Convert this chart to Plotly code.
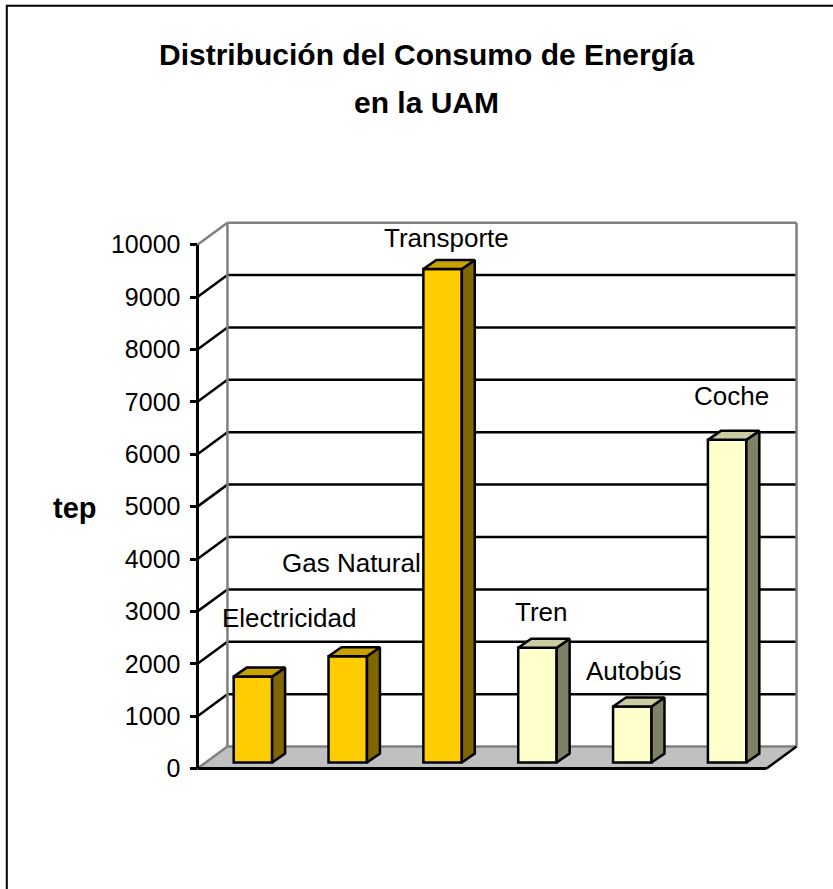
import plotly.graph_objects as go

# ---------------- data ----------------
categories = ["Electricidad", "Gas Natural", "Transporte", "Tren", "Autobús", "Coche"]
values = [1640, 2030, 9420, 2190, 1070, 6160]
groups = ["fuente", "fuente", "fuente", "modo", "modo", "modo"]
y_ticks = [0, 1000, 2000, 3000, 4000, 5000, 6000, 7000, 8000, 9000, 10000]
title_lines = ["Distribución del Consumo de Energía", "en la UAM"]
y_title = "tep"

# ---------------- style / geometry ----------------
W, H = 833, 889
FONT = "Liberation Sans, Arial, sans-serif"
COLORS = {
    "fuente": {"front": "#FFCC00", "top": "#C9A100", "side": "#806600"},
    "modo": {"front": "#FFFFCC", "top": "#CCCCA3", "side": "#808066"},
}
LINE_W = 2.5
GRID = "#000000"
WALL_EDGE = "#808080"
FLOOR = "#C0C0C0"

# pixel geometry of the front axis frame
X0_PX = 197.0          # x = -0.5 (front-left corner)
PX_PER_X = 95.0        # pixels per category
Y0_PX = 769.0          # value 0 on front axis
PX_PER_Y = 0.0524      # pixels per unit value
DEPTH_DX_PX, DEPTH_DY_PX = 30.0, 22.0   # back wall offset

# bar geometry (pixels)
BAR_W_PX = 38.5
BAR_SHIFT_X_PX, BAR_SHIFT_Y_PX = 8.0, 6.0
BAR_DEPTH_DX_PX, BAR_DEPTH_DY_PX = 13.0, 9.0

# label offsets in px (dx, dy up) relative to bar front top center
LABEL_SHIFT = [(36, 59), (4, 93), (4, 31), (4, 36), (1, 35), (4, 44)]

# convert to data units
ddx = DEPTH_DX_PX / PX_PER_X
ddy = DEPTH_DY_PX / PX_PER_Y
bw = BAR_W_PX / PX_PER_X
box = BAR_SHIFT_X_PX / PX_PER_X
boy = BAR_SHIFT_Y_PX / PX_PER_Y
bdx = BAR_DEPTH_DX_PX / PX_PER_X
bdy = BAR_DEPTH_DY_PX / PX_PER_Y

n = len(categories)
xmin, xmax = -0.6, n - 0.5 + ddx + 0.1
ymin, ymax = -200, max(y_ticks) + ddy + 300

left = X0_PX + (xmin + 0.5) * PX_PER_X
right_px = X0_PX + (xmax + 0.5) * PX_PER_X
bottom_px = Y0_PX - ymin * PX_PER_Y
top_px = Y0_PX - ymax * PX_PER_Y
plot_w = right_px - left
plot_h = bottom_px - top_px


def pxp(px, py):
    return (px - left) / plot_w, (bottom_px - py) / plot_h


fig = go.Figure()
shapes = []


def seg(x0, y0, x1, y1, color, width=LINE_W):
    shapes.append(dict(type="line", xref="x", yref="y", x0=x0, y0=y0, x1=x1, y1=y1,
                       line=dict(color=color, width=width), layer="below"))


xl, xr = -0.5, n - 0.5
top_val = max(y_ticks)
# floor
shapes.append(dict(type="path", xref="x", yref="y",
                   path=f"M {xl},0 L {xr},0 L {xr+ddx},{ddy} L {xl+ddx},{ddy} Z",
                   fillcolor=FLOOR, line=dict(width=0), layer="below"))
# gridlines on back and left wall
for v in y_ticks[1:]:
    c = WALL_EDGE if v == top_val else GRID
    seg(xl + ddx, v + ddy, xr + ddx, v + ddy, c)
    seg(xl, v, xl + ddx, v + ddy, c)
# back wall vertical edges
seg(xl + ddx, ddy, xl + ddx, top_val + ddy, WALL_EDGE)
seg(xr + ddx, ddy, xr + ddx, top_val + ddy, WALL_EDGE)
# floor edges
seg(xl, 0, xl + ddx, ddy, WALL_EDGE)
seg(xl + ddx, ddy, xr + ddx, ddy, WALL_EDGE)
seg(xr, 0, xr + ddx, ddy, GRID)
seg(xl, 0, xr, 0, GRID, 3)
# front vertical axis line
seg(xl, 0, xl, top_val, GRID, 3)

# outer chart border (top and left visible)
bx0, by0 = pxp(6, 6)
bx1, by1 = pxp(W + 20, H + 20)
shapes.append(dict(type="rect", xref="paper", yref="paper", x0=bx0, y0=by1, x1=bx1, y1=by0,
                   line=dict(color="black", width=2), fillcolor="rgba(0,0,0,0)", layer="below"))

# bars: front faces
xs = [i + box for i in range(n)]
fig.add_trace(go.Bar(
    x=xs, y=values, base=boy, width=bw,
    marker=dict(color=[COLORS[g]["front"] for g in groups],
                line=dict(color="black", width=LINE_W)),
    hoverinfo="skip", showlegend=False,
))
# side and top faces
for i, v in enumerate(values):
    g = groups[i]
    x_l = xs[i] - bw / 2
    x_r = xs[i] + bw / 2
    b = boy
    t = boy + v
    fig.add_trace(go.Scatter(
        x=[x_r, x_r + bdx, x_r + bdx, x_r, x_r],
        y=[b, b + bdy, t + bdy, t, b],
        fill="toself", fillcolor=COLORS[g]["side"], mode="lines",
        line=dict(color="black", width=LINE_W), hoverinfo="skip", showlegend=False))
    fig.add_trace(go.Scatter(
        x=[x_l, x_r, x_r + bdx, x_l + bdx, x_l],
        y=[t, t, t + bdy, t + bdy, t],
        fill="toself", fillcolor=COLORS[g]["top"], mode="lines",
        line=dict(color="black", width=LINE_W), hoverinfo="skip", showlegend=False))

annotations = []
for i, (cat, v) in enumerate(zip(categories, values)):
    dxp, dyp = LABEL_SHIFT[i]
    annotations.append(dict(x=xs[i], y=boy + v, xref="x", yref="y", text=cat,
                            showarrow=False, xanchor="center", yanchor="middle",
                            xshift=dxp, yshift=dyp,
                            font=dict(family=FONT, size=26, color="black")))

tx, ty1 = pxp(426, 55)
_, ty2 = pxp(426, 103)
for txt, ty in zip(title_lines, [ty1, ty2]):
    annotations.append(dict(x=tx, y=ty, xref="paper", yref="paper", text=f"<b>{txt}</b>",
                            showarrow=False, xanchor="center", yanchor="middle",
                            font=dict(family=FONT, size=30, color="black")))
lx, ly = pxp(74, 508)
annotations.append(dict(x=lx, y=ly, xref="paper", yref="paper", text=f"<b>{y_title}</b>",
                        showarrow=False, xanchor="center", yanchor="middle",
                        font=dict(family=FONT, size=29, color="black")))

axis_pos, _ = pxp(X0_PX, 0)

fig.update_layout(
    width=W, height=H,
    margin=dict(l=left, r=W - right_px, t=top_px, b=H - bottom_px, autoexpand=False),
    paper_bgcolor="white", plot_bgcolor="white",
    shapes=shapes, annotations=annotations, showlegend=False,
    xaxis=dict(range=[xmin, xmax], visible=False, fixedrange=True),
    yaxis=dict(range=[ymin, ymax], anchor="free", position=axis_pos,
               tickvals=y_ticks, ticktext=[str(v) for v in y_ticks],
               ticks="outside", ticklen=7, tickwidth=2.5, tickcolor="black",
               showline=False, showgrid=False, zeroline=False,
               ticklabelstandoff=5,
               tickfont=dict(family=FONT, size=25, color="black")),
    font=dict(family=FONT),
)

fig.write_html("out.html",
               config={"displayModeBar": False},
               post_script="document.body.style.margin='0';document.body.style.overflow='hidden';")
